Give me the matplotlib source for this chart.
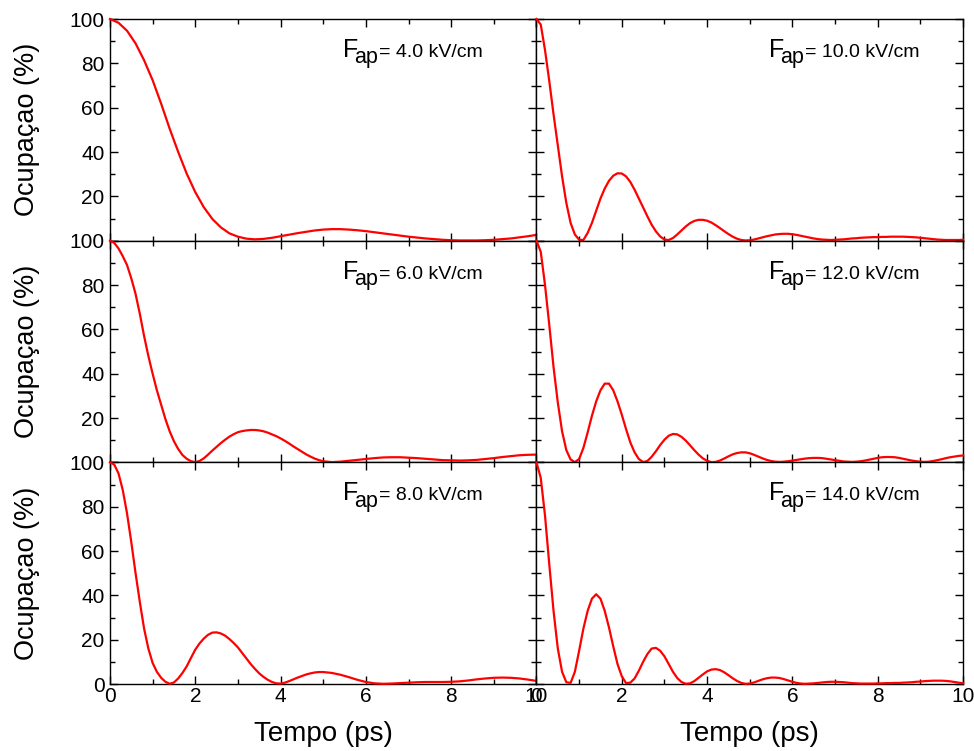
import matplotlib
matplotlib.use("Agg")
import matplotlib.pyplot as plt
import matplotlib.transforms as mtransforms
from matplotlib.ticker import MultipleLocator
import numpy as np

plt.rcParams["font.family"] = ["Liberation Sans", "DejaVu Sans"]

t_slow = np.linspace(0, 10, 51)
t_fast = np.linspace(0, 10, 101)
t_mixed = np.concatenate([np.linspace(0, 5, 51), np.linspace(5.2, 10, 25)])

fields = [4.0, 10.0, 6.0, 12.0, 8.0, 14.0]

# occupation (%)
occ_4 = [100, 98.3, 94.7, 89, 81.4, 72.4, 61.8, 50.5, 40, 30.2, 21.9, 15.1,
         9.8, 6, 3.3, 1.8, 0.9, 0.6, 0.8, 1.3, 2.0, 2.7, 3.4, 4.0, 4.6, 5.0,
         5.2, 5.2, 5.0, 4.7, 4.3, 3.8, 3.3, 2.8, 2.3, 1.8, 1.4, 1.0, 0.7, 0.4,
         0.2, 0.1, 0.1, 0.1, 0.2, 0.4, 0.7, 1.0, 1.5, 2.0, 2.6]
occ_6 = [100, 99, 96.5, 93, 89, 83, 76, 67, 57, 48,
         40, 32.5, 26, 19.5, 14, 9.5, 6, 3.3, 1.6, 0.5,
         0.1, 0.6, 1.8, 3.5, 5.3, 7.0, 8.7, 10.2, 11.6, 12.7,
         13.6, 14.1, 14.4, 14.6, 14.6, 14.4, 14.0, 13.4, 12.6, 11.8,
         10.8, 9.7, 8.5, 7.2, 6.0, 4.8, 3.6, 2.6, 1.7, 1.0,
         0.5,
         0.1, 0.3, 0.7, 1.1, 1.5, 1.9, 2.2, 2.3, 2.3, 2.1, 1.9, 1.6, 1.3,
         1.0, 0.9, 0.8, 0.9, 1.1, 1.5, 1.9, 2.4, 2.8, 3.2, 3.4, 3.5]
occ_8 = [100, 99, 95, 87.5, 77, 64, 50, 37, 25, 16,
         9.5, 5.5, 2.8, 1.0, 0.1, 0.7, 2.5, 5, 8, 11.8,
         15.5, 18.3, 20.5, 22.2, 23.2, 23.3, 22.8, 21.8, 20.3, 18.5,
         16.5, 14.0, 11.5, 9.0, 6.8, 4.8, 3.2, 1.9, 0.9, 0.3,
         0.2, 0.6, 1.3, 2.1, 2.9, 3.6, 4.3, 4.8, 5.2, 5.4,
         5.4,
         5.0, 4.2, 3.1, 1.9, 0.9, 0.3, 0.1, 0.2, 0.4, 0.6, 0.8, 0.9, 0.9,
         0.9, 1.0, 1.2, 1.6, 2.1, 2.5, 2.8, 2.9, 2.8, 2.5, 2.0, 1.4]
occ_10 = [100, 97.5, 86, 72, 57, 43, 29, 17, 8, 2.8,
          0.4, 0.3, 3.5, 8, 13.5, 19, 23.5, 27, 29.3, 30.4,
          30.3, 29, 26.5, 23, 19, 15, 11, 7.2, 4.2, 1.9,
          0.5, 0.3, 1.2, 2.8, 4.6, 6.4, 7.9, 8.9, 9.4, 9.4,
          9.0, 8.2, 7.0, 5.7, 4.3, 3.0, 1.8, 0.9, 0.3, 0.1,
          0.2, 0.5, 1.0, 1.5, 2.0, 2.4, 2.8, 3.0, 3.1, 3.1,
          2.9, 2.6, 2.2, 1.8, 1.4, 1.0, 0.7, 0.5, 0.4, 0.3,
          0.4, 0.5, 0.6, 0.8, 1.0, 1.1, 1.3, 1.4, 1.5, 1.6,
          1.6, 1.7, 1.7, 1.8, 1.8, 1.8, 1.8, 1.7, 1.6, 1.5,
          1.3, 1.1, 0.9, 0.7, 0.5, 0.4, 0.3, 0.3, 0.3, 0.3,
          0.4]
occ_12 = [100, 95, 80, 62, 43, 27, 14, 5.5, 1.3, 0.1,
          1.5, 6.5, 13.5, 21, 27.5, 32.5, 35.5, 35.5, 32.5, 27.5,
          21.5, 15, 9, 4.5, 1.5, 0.1, 0.6, 2.5, 5, 7.8,
          10.2, 12, 12.8, 12.6, 11.5, 9.8, 7.7, 5.5, 3.5, 1.8,
          0.7, 0.1, 0.2, 0.8, 1.7, 2.7, 3.6, 4.2, 4.5, 4.5,
          4.1, 3.4, 2.6, 1.8, 1.1, 0.6, 0.3, 0.2, 0.3, 0.5,
          0.8, 1.1, 1.4, 1.7, 1.9, 2.0, 2.0, 1.9, 1.6, 1.3,
          1.0, 0.7, 0.4, 0.3, 0.2, 0.3, 0.5, 0.8, 1.2, 1.6,
          2.0, 2.3, 2.4, 2.4, 2.3, 2.0, 1.6, 1.2, 0.8, 0.5,
          0.3, 0.2, 0.3, 0.6, 1.0, 1.4, 1.9, 2.3, 2.6, 2.9,
          3.1]
occ_14 = [100, 93, 76, 54, 33, 16, 5.5, 0.8, 0.5, 5.5,
          15, 25, 33, 38.5, 40.5, 38.5, 33, 25.5, 17, 9,
          3.5, 0.4, 0.6, 2.5, 6, 10, 13.5, 16, 16.3, 15,
          12.5, 9, 5.5, 2.7, 0.9, 0.1, 0.3, 1.3, 2.8, 4.3,
          5.7, 6.5, 6.7, 6.3, 5.3, 4.0, 2.6, 1.4, 0.5, 0.1,
          0.2, 0.7, 1.4, 2.1, 2.6, 2.9, 2.9, 2.7, 2.2, 1.6,
          1.0, 0.5, 0.2, 0.1, 0.2, 0.3, 0.5, 0.7, 0.9, 1.0,
          1.0, 0.9, 0.8, 0.6, 0.4, 0.3, 0.2, 0.2, 0.2, 0.2,
          0.3, 0.3, 0.4, 0.4, 0.5, 0.5, 0.6, 0.7, 0.8, 1.0,
          1.1, 1.3, 1.4, 1.5, 1.5, 1.5, 1.4, 1.2, 0.9, 0.6,
          0.3]

series = [(t_slow, occ_4), (t_fast, occ_10),
          (t_mixed, occ_6), (t_fast, occ_12),
          (t_mixed, occ_8), (t_fast, occ_14)]

fig, axes = plt.subplots(3, 2, figsize=(9.74, 7.51), dpi=100)
fig.subplots_adjust(left=0.1129, right=0.9887, bottom=0.0892, top=0.9747,
                    wspace=0, hspace=0)


def field_label(ax, value):
    x, y = 0.546, 0.829
    ax.text(x, y, "F", transform=ax.transAxes, fontsize=18)
    sub = mtransforms.offset_copy(ax.transAxes, fig=fig, x=11, y=-6.5,
                                  units="dots")
    ax.text(x, y, "ap", transform=sub, fontsize=15.5)
    rest = mtransforms.offset_copy(ax.transAxes, fig=fig, x=36, y=0,
                                   units="dots")
    ax.text(x, y, f"= {value:.1f} kV/cm", transform=rest, fontsize=14)


for i, ax in enumerate(axes.flat):
    t, occ = series[i]
    row, col = divmod(i, 2)
    ax.plot(t, occ, color="red", lw=1.6, clip_on=False, zorder=3,
            solid_joinstyle="round")
    ax.set_xlim(0, 10)
    ax.set_ylim(0, 100)
    ax.set_xticks(range(0, 11, 2))
    ax.set_yticks(range(0, 101, 20))
    # the "0" of the upper panels sits under the "100" of the panel below
    if row < 2:
        ax.set_yticklabels([""] + [str(v) for v in range(20, 101, 20)])
    ax.xaxis.set_minor_locator(MultipleLocator(1))
    ax.yaxis.set_minor_locator(MultipleLocator(10))
    ax.tick_params(which="both", direction="in", top=True, right=True,
                   width=1, labelsize=15)
    ax.tick_params(which="major", length=6)
    ax.tick_params(which="minor", length=3.5)
    ax.tick_params(axis="x", pad=2)
    ax.tick_params(axis="y", pad=4)
    for sp in ax.spines.values():
        sp.set_linewidth(1)
    if col == 1:
        ax.tick_params(labelleft=False)
    else:
        ax.set_ylabel("Ocupaçao (%)", fontsize=19.5)
        ax.yaxis.set_label_coords(-0.165, 0.5)
    if row < 2:
        ax.tick_params(labelbottom=False)
    else:
        ax.set_xlabel("Tempo (ps)", fontsize=20)
        ax.xaxis.set_label_coords(0.5, -0.165)
    field_label(ax, fields[i])

fig.savefig("out.png", dpi=100)
